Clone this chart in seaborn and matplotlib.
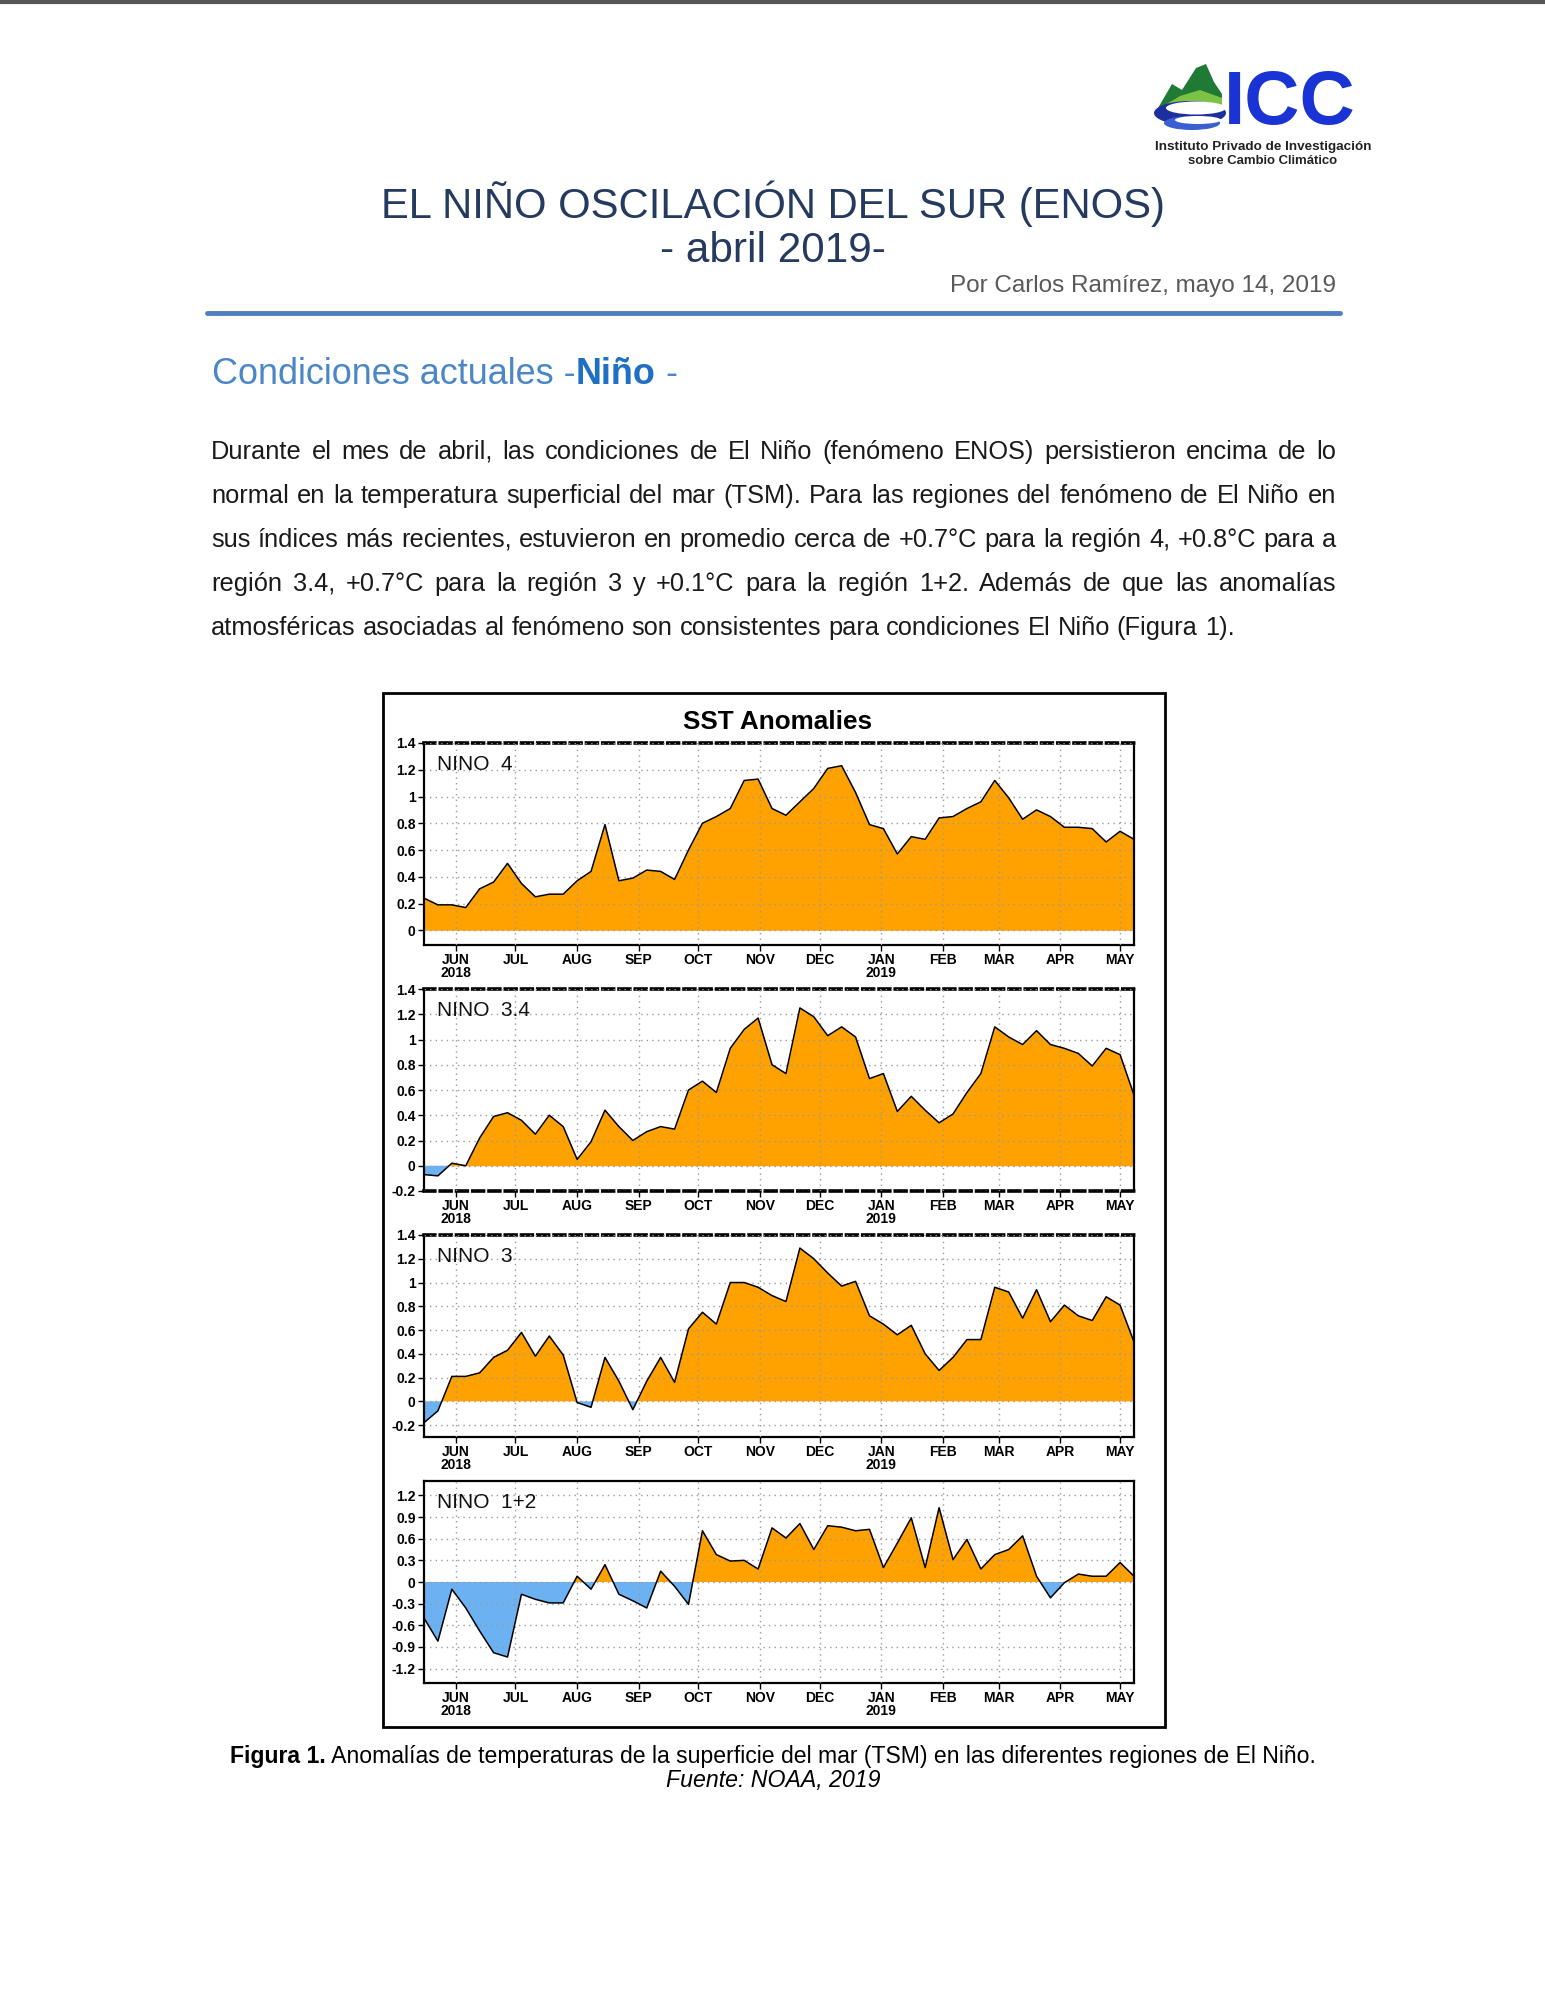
import matplotlib
matplotlib.use('Agg')
import matplotlib.pyplot as plt
import matplotlib.dates as mdates
from matplotlib.patches import Rectangle, Polygon, Ellipse
import numpy as np
import pandas as pd
import seaborn as sns

# ---------------- data ----------------
start_date = '2018-05-16'
n_weeks = 52
nino4 = [0.24, 0.19, 0.19, 0.17, 0.31, 0.36, 0.50, 0.35, 0.25, 0.27, 0.27, 0.37, 0.44,
         0.79, 0.37, 0.39, 0.45, 0.44, 0.38, 0.60, 0.80, 0.85, 0.91, 1.12, 1.13, 0.91,
         0.86, 0.96, 1.06, 1.21, 1.23, 1.03, 0.79, 0.76, 0.57, 0.70, 0.68, 0.84, 0.85,
         0.91, 0.96, 1.12, 0.99, 0.83, 0.90, 0.85, 0.77, 0.77, 0.76, 0.66, 0.74, 0.68]
nino34 = [-0.07, -0.08, 0.02, 0.00, 0.22, 0.39, 0.42, 0.36, 0.25, 0.40, 0.31, 0.05, 0.19,
          0.44, 0.31, 0.20, 0.27, 0.31, 0.29, 0.60, 0.67, 0.58, 0.93, 1.08, 1.17, 0.80,
          0.73, 1.25, 1.18, 1.03, 1.10, 1.02, 0.69, 0.73, 0.43, 0.55, 0.44, 0.34, 0.41,
          0.58, 0.73, 1.10, 1.02, 0.96, 1.07, 0.96, 0.93, 0.89, 0.79, 0.93, 0.88, 0.56]
nino3 = [-0.18, -0.08, 0.21, 0.21, 0.24, 0.37, 0.43, 0.58, 0.38, 0.55, 0.39, -0.01, -0.05,
         0.37, 0.17, -0.07, 0.17, 0.37, 0.16, 0.61, 0.75, 0.65, 1.00, 1.00, 0.96, 0.89,
         0.84, 1.29, 1.20, 1.08, 0.97, 1.01, 0.72, 0.65, 0.56, 0.64, 0.40, 0.26, 0.37,
         0.52, 0.52, 0.96, 0.92, 0.70, 0.94, 0.67, 0.81, 0.72, 0.68, 0.88, 0.81, 0.50]
nino12 = [-0.50, -0.82, -0.10, -0.36, -0.68, -0.98, -1.04, -0.17, -0.24, -0.29, -0.29, 0.08,
          -0.10, 0.24, -0.17, -0.26, -0.36, 0.15, -0.06, -0.31, 0.71, 0.38, 0.29, 0.30,
          0.18, 0.75, 0.61, 0.81, 0.45, 0.78, 0.76, 0.71, 0.73, 0.20, 0.54, 0.89, 0.20,
          1.03, 0.31, 0.59, 0.18, 0.38, 0.45, 0.64, 0.08, -0.22, -0.01, 0.11, 0.08, 0.08,
          0.27, 0.08]
region_labels = ['NINO  4', 'NINO  3.4', 'NINO  3', 'NINO  1+2']
month_labels = ['JUN', 'JUL', 'AUG', 'SEP', 'OCT', 'NOV', 'DEC', 'JAN', 'FEB', 'MAR', 'APR', 'MAY']
year_labels = {'JUN': '2018', 'JAN': '2019'}
yticks_sets = [[0, 0.2, 0.4, 0.6, 0.8, 1, 1.2, 1.4],
               [-0.2, 0, 0.2, 0.4, 0.6, 0.8, 1, 1.2, 1.4],
               [-0.2, 0, 0.2, 0.4, 0.6, 0.8, 1, 1.2, 1.4],
               [-1.2, -0.9, -0.6, -0.3, 0, 0.3, 0.6, 0.9, 1.2]]
ylims = [(-0.11, 1.4), (-0.2, 1.4), (-0.3, 1.4), (-1.4, 1.4)]

title1 = 'EL NIÑO OSCILACIÓN DEL SUR (ENOS)'
title2 = '- abril 2019-'
author = 'Por Carlos Ramírez, mayo 14, 2019'
paragraph = [
    'Durante el mes de abril, las condiciones de El Niño (fenómeno ENOS) persistieron encima de lo',
    'normal en la temperatura superficial del mar (TSM). Para las regiones del fenómeno de El Niño en',
    'sus índices más recientes, estuvieron en promedio cerca de +0.7°C para la región 4, +0.8°C para a',
    'región 3.4, +0.7°C para la región 3 y  +0.1°C para la región 1+2. Además de que las anomalías',
    'atmosféricas asociadas al fenómeno son consistentes para condiciones El Niño (Figura 1).',
]
caption_bold = 'Figura 1.'
caption_rest = ' Anomalías de temperaturas de la superficie del mar (TSM) en las diferentes regiones de El Niño.'
source = 'Fuente: NOAA, 2019'

# ---------------- style ----------------
sns.set_style('white')
plt.rcParams['font.family'] = ['Liberation Sans', 'DejaVu Sans']

W, H = 1545, 2000
fig = plt.figure(figsize=(W / 100, H / 100), dpi=100)
renderer = fig.canvas.get_renderer()


def fx(x):
    return x / W


def fy(y):
    return 1 - y / H


def measure(t):
    return t.get_window_extent(renderer=renderer).width


def fit(s, x, y, target, ha='center', size=16, **kw):
    t = fig.text(fx(x), fy(y), s, ha=ha, va='center', fontsize=size, **kw)
    w = measure(t)
    t.set_fontsize(size * target / w)
    return t


def fit_size(s, target, size=16, **kw):
    t = fig.text(0, 0, s, fontsize=size, **kw)
    w = measure(t)
    t.remove()
    return size * target / w


# top border line
fig.add_artist(plt.Line2D([0, 1], [fy(1.5), fy(1.5)], transform=fig.transFigure,
                          color='#555555', lw=3))

# ---------------- logo ----------------
def poly(pts, color):
    fig.add_artist(Polygon([(fx(a), fy(b)) for a, b in pts], closed=True,
                           transform=fig.transFigure, fc=color, ec='none'))

poly([(1158, 108), (1172, 84), (1182, 90), (1196, 68), (1206, 64), (1214, 82),
      (1222, 94), (1222, 108)], '#1f7a36')
poly([(1160, 108), (1180, 96), (1200, 90), (1222, 98), (1222, 108)], '#7cc243')
fig.add_artist(Ellipse((fx(1190), fy(113)), 72 / W, 24 / H, transform=fig.transFigure,
                       fc='#1d2f9e', ec='none'))
fig.add_artist(Ellipse((fx(1196), fy(108)), 60 / W, 13 / H, transform=fig.transFigure,
                       fc='white', ec='none'))
fig.add_artist(Ellipse((fx(1192), fy(123)), 56 / W, 14 / H, transform=fig.transFigure,
                       fc='#3a5fd0', ec='none'))
fig.add_artist(Ellipse((fx(1198), fy(120)), 46 / W, 8 / H, transform=fig.transFigure,
                       fc='white', ec='none'))
fig.text(fx(1224), fy(124), 'ICC', ha='left', va='baseline', fontsize=55,
         fontweight='bold', color='#1a33d4')
fit('Instituto Privado de Investigación', 1263, 147, 215, fontweight='bold', color='#222222')
fit('sobre Cambio Climático', 1263, 161, 150, fontweight='bold', color='#222222')

# ---------------- header text ----------------
fit(title1, 773, 204, 785, color='#243a5e')
fit(title2, 773, 251, 226, color='#243a5e')
fit(author, 1336, 286, 387, ha='right', color='#595959')
fig.add_artist(plt.Line2D([fx(207), fx(1340)], [fy(313), fy(313)], transform=fig.transFigure,
                          color='#4f7fbf', lw=3.5))

# heading with bold part
hs = fit_size('Condiciones actuales -Niño -', 460, size=20)
p1 = fig.text(fx(212), fy(374), 'Condiciones actuales -', ha='left', va='center',
              fontsize=hs, color='#4a86c8')
w1 = measure(p1)
p2 = fig.text(fx(212 + w1), fy(374), 'Niño', ha='left', va='center', fontsize=hs,
              fontweight='bold', color='#1f6fc4')
w2 = measure(p2)
fig.text(fx(212 + w1 + w2), fy(374), ' -', ha='left', va='center', fontsize=hs, color='#4a86c8')

# paragraph (justified)
ps = fit_size(paragraph[-1], 1023, size=16)
line_y = [452, 496, 540, 584, 628]
x0, x1 = 211, 1336
ta = fig.text(0, 0, 'a a', fontsize=ps)
tb = fig.text(0, 0, 'aa', fontsize=ps)
space_w = measure(ta) - measure(tb)
ta.remove()
tb.remove()
for k, (line, yy) in enumerate(zip(paragraph, line_y)):
    words = line.split()
    ts = [fig.text(0, fy(yy), w, ha='left', va='center', fontsize=ps, color='#1a1a1a')
          for w in words]
    ws = [measure(t) for t in ts]
    if k == len(paragraph) - 1:
        gap = space_w
    else:
        gap = (x1 - x0 - sum(ws)) / (len(words) - 1)
    xc = x0
    for t, w in zip(ts, ws):
        t.set_x(fx(xc))
        xc += w + gap

# ---------------- chart ----------------
orange = '#FFA200'
blue = '#6CB2F2'
fig.add_artist(Rectangle((fx(383), fy(1727)), (1165 - 383) / W, (1727 - 693) / H,
                         transform=fig.transFigure, fill=False, ec='black', lw=2))
fit('SST Anomalies', 778, 722, 189, fontweight='bold', color='black')

dates = pd.date_range(start_date, periods=n_weeks, freq='7D')
xnum = mdates.date2num(dates)
month_pos = mdates.date2num(pd.date_range('2018-06-01', periods=len(month_labels), freq='MS'))
month_text = [m + ('\n' + year_labels[m] if m in year_labels else '') for m in month_labels]

series = [nino4, nino34, nino3, nino12]
tops = [743, 989, 1235, 1481]
ph = 202
tick_font = ['Liberation Sans Narrow', 'Liberation Sans', 'DejaVu Sans']
for i, vals in enumerate(series):
    ax = fig.add_axes([fx(424), fy(tops[i] + ph), (1134 - 424) / W, ph / H])
    v = np.array(vals)
    df = pd.DataFrame({'x': xnum, 'anom': v})
    ax.fill_between(xnum, 0, v, where=v >= 0, interpolate=True, color=orange, lw=0, zorder=1)
    ax.fill_between(xnum, 0, v, where=v <= 0, interpolate=True, color=blue, lw=0, zorder=1)
    sns.lineplot(data=df, x='x', y='anom', ax=ax, color='black', lw=1.1, zorder=3)
    ax.set_xlim(xnum[0], xnum[-1])
    ax.set_ylim(*ylims[i])
    ax.set_yticks(yticks_sets[i])
    ax.set_yticklabels(['%g' % t for t in yticks_sets[i]])
    ax.set_xticks(month_pos)
    ax.set_xticklabels(month_text, linespacing=0.85)
    ax.set_xlabel('')
    ax.set_ylabel('')
    ax.set_axisbelow(False)
    ax.grid(True, color='#9a9a9a', linestyle=(0, (1, 3)), lw=1.0)
    ax.tick_params(axis='both', direction='out', length=4, width=1, pad=2,
                   labelsize=10, colors='black', left=True, bottom=True)
    for lab in ax.get_xticklabels() + ax.get_yticklabels():
        lab.set_family(tick_font)
        lab.set_fontweight('bold')
    for s in ax.spines.values():
        s.set_color('black')
        s.set_linewidth(1.6)
    if ylims[i][1] in yticks_sets[i]:
        ax.spines['top'].set_linestyle((0, (3, 1.5)))
        ax.spines['top'].set_linewidth(2.6)
    if ylims[i][0] in yticks_sets[i]:
        ax.spines['bottom'].set_linestyle((0, (3, 1.5)))
        ax.spines['bottom'].set_linewidth(2.6)
    ax.text(0.018, 0.895, region_labels[i], transform=ax.transAxes, ha='left', va='center',
            fontsize=15, family=['Liberation Sans', 'DejaVu Sans'], color='#111111', zorder=5)

# ---------------- caption ----------------
cs = fit_size(caption_bold + caption_rest, 1085, size=16)
cb = fig.text(0, fy(1756), caption_bold, ha='left', va='center', fontsize=cs,
              fontweight='bold', color='black')
cr = fig.text(0, fy(1756), caption_rest, ha='left', va='center', fontsize=cs, color='black')
wb, wr = measure(cb), measure(cr)
xs = 773 - (wb + wr) / 2
cb.set_x(fx(xs))
cr.set_x(fx(xs + wb))
fit(source, 773, 1781, 215, fontstyle='italic', color='black')

fig.savefig('out.png', dpi=100)
